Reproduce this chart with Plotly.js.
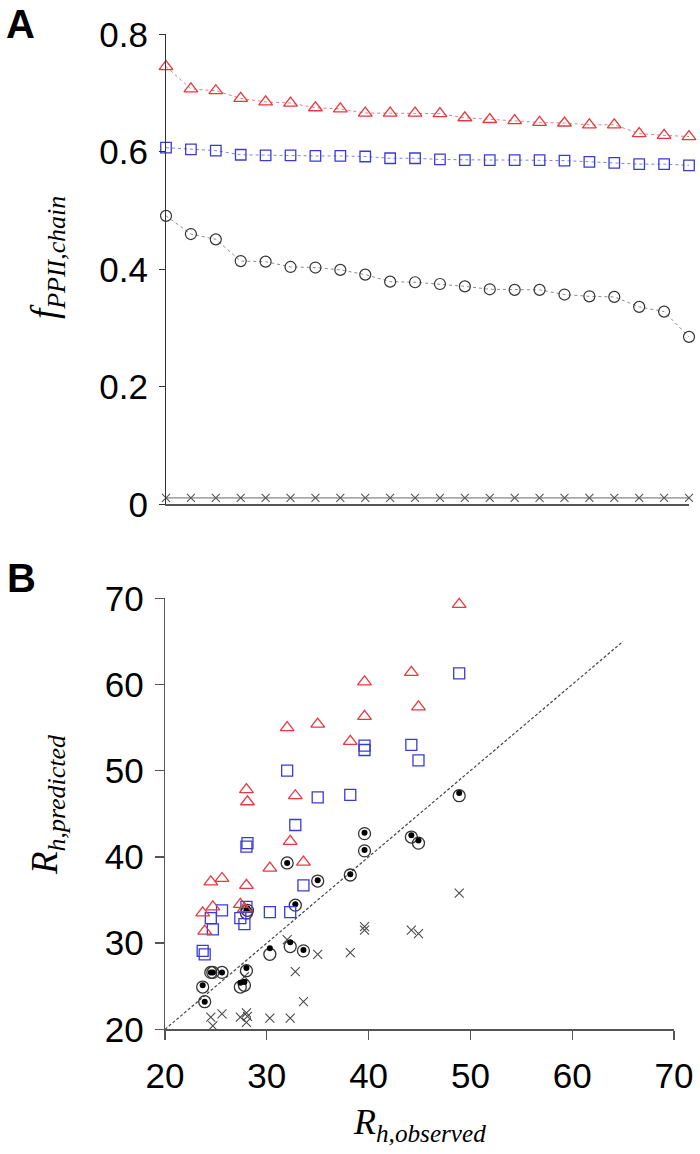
<!DOCTYPE html>
<html>
<head>
<meta charset="utf-8">
<script src="https://cdn.plot.ly/plotly-3.0.1.min.js"></script>
<style>
html,body{margin:0;padding:0;background:#fff;}
#chart{width:700px;height:1154px;}
</style>
</head>
<body>
<div id="chart"></div>
<script>
// ---------- Panel A data ----------
var rankA = [1,2,3,4,5,6,7,8,9,10,11,12,13,14,15,16,17,18,19,20,21,22];
var triA  = [0.745,0.707,0.704,0.691,0.685,0.683,0.675,0.673,0.666,0.666,0.666,0.665,0.658,0.655,0.653,0.650,0.649,0.646,0.646,0.631,0.628,0.626];
var sqA   = [0.607,0.604,0.602,0.595,0.594,0.594,0.593,0.593,0.592,0.589,0.589,0.587,0.586,0.586,0.586,0.586,0.585,0.583,0.581,0.579,0.579,0.577];
var circA = [0.491,0.460,0.451,0.414,0.413,0.404,0.403,0.399,0.391,0.379,0.378,0.375,0.371,0.366,0.365,0.365,0.357,0.354,0.353,0.336,0.328,0.285];
var crossA= [0.011,0.011,0.011,0.011,0.011,0.011,0.011,0.011,0.011,0.011,0.011,0.011,0.011,0.011,0.011,0.011,0.011,0.011,0.011,0.011,0.011,0.011];
var tickValsA = [0,0.2,0.4,0.6,0.8];
var tickTextA = ["0","0.2","0.4","0.6","0.8"];

// ---------- Panel B data ----------
var obsB   = [23.7,23.9,24.5,24.7,25.6,27.4,27.8,28.0,28.0,28.1,30.3,32.0,32.3,32.8,33.6,35.0,38.2,39.6,39.6,44.2,44.9,48.9];
var triB   = [33.5,31.4,37.1,34.2,37.5,34.5,34.0,47.8,36.7,46.4,38.7,55.0,41.8,47.1,39.4,55.4,53.4,60.3,56.3,61.4,57.4,69.3];
var sqB    = [29.1,28.7,32.9,31.6,33.8,32.9,32.2,41.2,34.2,41.6,33.6,50.0,33.6,43.7,36.7,46.9,47.2,52.9,52.4,53.0,51.2,61.3];
var circB  = [24.9,23.2,26.6,26.6,26.6,24.9,25.1,33.5,26.8,33.8,28.7,39.3,29.6,34.4,29.1,37.2,37.9,42.7,40.7,42.3,41.6,47.1];
var dotB   = [25.1,23.2,26.6,26.6,26.6,25.4,25.5,33.8,27.1,34.0,29.4,39.3,30.1,34.5,29.2,37.3,38.0,42.8,40.8,42.5,41.9,47.4];
var crossB = [18.5,18.0,21.4,20.4,21.8,21.4,26.1,21.9,20.8,21.5,21.3,30.4,21.3,26.7,23.2,28.7,28.9,31.9,31.5,31.5,31.1,35.8];
var diagB  = [20,65];
var tickValsB = [20,30,40,50,60,70];

var RED = '#e8383f', BLUE = '#3a3ad8', DARK = '#333333', GREY = '#555555';

var traces = [
  // Panel A
  {x:rankA, y:crossA, mode:'lines+markers', xaxis:'x', yaxis:'y', cliponaxis:false,
   line:{color:'#a8a8a8', width:1.6},
   marker:{symbol:'x-thin-open', size:8, color:GREY, line:{color:GREY, width:1.1}}},
  {x:rankA, y:circA, mode:'lines+markers', xaxis:'x', yaxis:'y', cliponaxis:false,
   line:{color:'#8a8a8a', width:1, dash:'dot'},
   marker:{symbol:'circle-open', size:11, color:DARK, line:{color:DARK, width:1.2}}},
  {x:rankA, y:sqA, mode:'lines+markers', xaxis:'x', yaxis:'y', cliponaxis:false,
   line:{color:'#7d7df0', width:1, dash:'dot'},
   marker:{symbol:'square-open', size:10.5, color:BLUE, line:{color:BLUE, width:1.3}}},
  {x:rankA, y:triA, mode:'lines+markers', xaxis:'x', yaxis:'y', cliponaxis:false,
   line:{color:'#f07a7f', width:1, dash:'dot'},
   marker:{symbol:'triangle-up-open', size:12, color:RED, line:{color:RED, width:1.3}}},
  // Panel B
  {x:diagB, y:diagB, mode:'lines', xaxis:'x2', yaxis:'y2', cliponaxis:false,
   line:{color:'#444444', width:1.2, dash:'3px,2px'}},
  {x:obsB, y:crossB, mode:'markers', xaxis:'x2', yaxis:'y2', cliponaxis:false,
   marker:{symbol:'x-thin-open', size:9, color:'#4a4a4a', line:{color:'#4a4a4a', width:1.1}}},
  {x:obsB, y:circB, mode:'markers', xaxis:'x2', yaxis:'y2', cliponaxis:false,
   marker:{symbol:'circle-open', size:12, color:DARK, line:{color:DARK, width:1.3}}},
  {x:obsB, y:dotB, mode:'markers', xaxis:'x2', yaxis:'y2', cliponaxis:false,
   marker:{symbol:'circle', size:6, color:'#000000'}},
  {x:obsB, y:sqB, mode:'markers', xaxis:'x2', yaxis:'y2', cliponaxis:false,
   marker:{symbol:'square-open', size:11, color:BLUE, line:{color:BLUE, width:1.3}}},
  {x:obsB, y:triB, mode:'markers', xaxis:'x2', yaxis:'y2', cliponaxis:false,
   marker:{symbol:'triangle-up-open', size:12, color:RED, line:{color:RED, width:1.3}}}
];

var tickFont = {family:'Liberation Sans, Arial, sans-serif', size:35, color:'#000'};
var H = 1154, W = 700;
function py(p){ return 1 - p/H; }
function px(p){ return p/W; }

var layout = {
  width:W, height:H,
  margin:{l:0,r:0,t:0,b:0},
  paper_bgcolor:'#fff', plot_bgcolor:'#fff',
  showlegend:false,
  xaxis:{domain:[px(166),px(689)], range:[1,22], showgrid:false, zeroline:false,
         showline:true, linecolor:'#555', linewidth:2, ticks:'', showticklabels:false, fixedrange:true},
  yaxis:{domain:[py(504.3),py(34.3)], range:[0,0.8], showgrid:false, zeroline:false,
         showline:true, linecolor:'#333', linewidth:1, ticks:'outside', ticklen:6, tickwidth:1, tickcolor:'#333',
         tickvals:tickValsA, ticktext:tickTextA, tickfont:tickFont, ticklabelstandoff:4, fixedrange:true},
  xaxis2:{domain:[px(165),px(674)], range:[20,70], showgrid:false, zeroline:false, anchor:'y2',
          showline:true, linecolor:'#555', linewidth:1.3, ticks:'outside', ticklen:9, tickwidth:1.3, tickcolor:'#555',
          tickvals:tickValsB, tickfont:tickFont, ticklabelstandoff:6, fixedrange:true},
  yaxis2:{domain:[py(1029.3),py(598.3)], range:[20,70], showgrid:false, zeroline:false, anchor:'x2',
          showline:true, linecolor:'#555', linewidth:1.3, ticks:'outside', ticklen:9, tickwidth:1.3, tickcolor:'#555',
          tickvals:tickValsB, tickfont:tickFont, ticklabelstandoff:4, fixedrange:true},
  annotations:[
    {text:'A', xref:'paper', yref:'paper', x:px(4), y:py(24), xanchor:'left', yanchor:'middle', showarrow:false,
     font:{family:'Liberation Sans, Arial, sans-serif', size:40, weight:'bold', color:'#000'}},
    {text:'B', xref:'paper', yref:'paper', x:px(5), y:py(578), xanchor:'left', yanchor:'middle', showarrow:false,
     font:{family:'Liberation Sans, Arial, sans-serif', size:40, weight:'bold', color:'#000'}},
    {text:'<i>f</i><sub><i>PPII,chain</i></sub>', xref:'paper', yref:'paper', x:px(47), y:py(258), textangle:-90,
     xanchor:'center', yanchor:'middle', showarrow:false,
     font:{family:'Liberation Serif, Times New Roman, serif', size:37, color:'#000'}},
    {text:'<i>R</i><sub><i>h,predicted</i></sub>', xref:'paper', yref:'paper', x:px(47), y:py(805), textangle:-90,
     xanchor:'center', yanchor:'middle', showarrow:false,
     font:{family:'Liberation Serif, Times New Roman, serif', size:37, color:'#000'}},
    {text:'<i>R</i><sub><i>h,observed</i></sub>', xref:'paper', yref:'paper', x:px(419), y:py(1124),
     xanchor:'center', yanchor:'middle', showarrow:false,
     font:{family:'Liberation Serif, Times New Roman, serif', size:36, color:'#000'}}
  ]
};

Plotly.newPlot('chart', traces, layout, {displayModeBar:false, staticPlot:true});
</script>
</body>
</html>
